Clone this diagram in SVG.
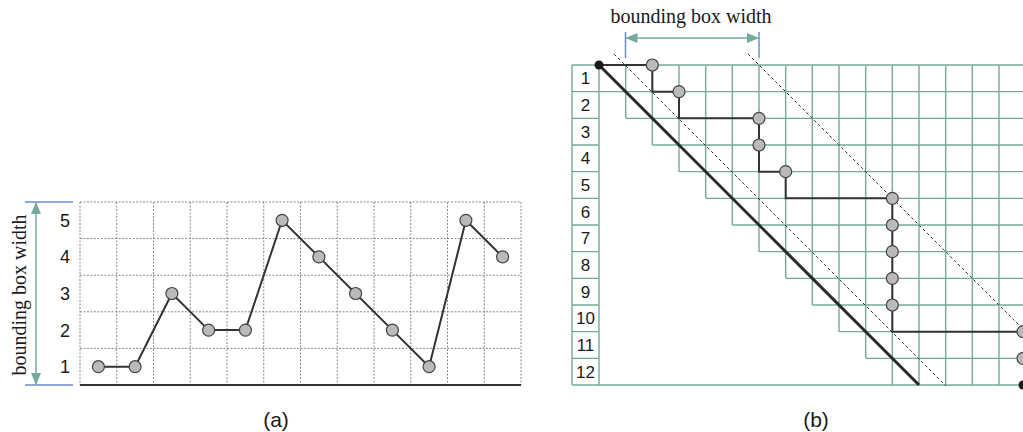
<svg xmlns="http://www.w3.org/2000/svg" width="1023" height="432" viewBox="0 0 1023 432">
<style>
.lbl{font-family:"Liberation Sans",Arial,sans-serif;fill:#1a1a1a;text-anchor:middle}
.ser{font-family:"Liberation Serif","Times New Roman",serif;font-size:20px;fill:#1a1a1a;text-anchor:middle}
.dot{stroke:#888;stroke-width:1;stroke-dasharray:2,1.5;fill:none}
.gr{stroke:#74aa9c;stroke-width:1.4;fill:none}
.node{fill:#b9babe;stroke:#444;stroke-width:1.2}
.conn{stroke:#333;stroke-width:2;fill:none}
.blue{stroke:#6c8cc8;stroke-width:1.5}
.arr{stroke:#74aa9c;stroke-width:1.5;fill:none}
</style>
<defs>
<marker id="ah" markerWidth="12" markerHeight="10" refX="11" refY="5" orient="auto-start-reverse" markerUnits="userSpaceOnUse">
<path d="M0,0 L12,5 L0,10 Z" fill="#74aa9c"/>
</marker>
</defs>
<rect width="1023" height="432" fill="#fff"/>

<!-- Panel (a) -->
<g id="grid-a">
<path class="dot" d="M80,202V385M116.75,202V385M153.5,202V385M190.25,202V385M227,202V385M263.75,202V385M300.5,202V385M337.25,202V385M374,202V385M410.75,202V385M447.5,202V385M484.25,202V385M521,202V385"/>
<path class="dot" d="M80,202H521M80,238.6H521M80,275.2H521M80,311.8H521M80,348.4H521"/>
<line x1="80" y1="385" x2="521" y2="385" stroke="#333" stroke-width="2"/>
<text class="lbl" font-size="18" x="65" y="373.2">1</text>
<text class="lbl" font-size="18" x="65" y="336.6">2</text>
<text class="lbl" font-size="18" x="65" y="300">3</text>
<text class="lbl" font-size="18" x="65" y="263.4">4</text>
<text class="lbl" font-size="18" x="65" y="226.8">5</text>
</g>
<g id="annot-a">
<line class="blue" x1="25" y1="202" x2="73" y2="202"/>
<line class="blue" x1="25" y1="385" x2="73" y2="385"/>
<line class="arr" x1="36" y1="203" x2="36" y2="384" marker-start="url(#ah)" marker-end="url(#ah)"/>
<text class="ser" transform="translate(26,295) rotate(-90)">bounding box width</text>
</g>
<g id="connectors-a">
<polyline class="conn" stroke-width="1.6" points="98.4,366.7 135.1,366.7 171.9,293.5 208.6,330.1 245.4,330.1 282.1,220.3 318.9,256.9 355.6,293.5 392.4,330.1 429.1,366.7 465.9,220.3 502.6,256.9"/>
</g>
<g id="a1"><circle class="node" cx="98.4" cy="366.7" r="6"/></g>
<g id="a2"><circle class="node" cx="135.1" cy="366.7" r="6"/></g>
<g id="a3"><circle class="node" cx="171.9" cy="293.5" r="6"/></g>
<g id="a4"><circle class="node" cx="208.6" cy="330.1" r="6"/></g>
<g id="a5"><circle class="node" cx="245.4" cy="330.1" r="6"/></g>
<g id="a6"><circle class="node" cx="282.1" cy="220.3" r="6"/></g>
<g id="a7"><circle class="node" cx="318.9" cy="256.9" r="6"/></g>
<g id="a8"><circle class="node" cx="355.6" cy="293.5" r="6"/></g>
<g id="a9"><circle class="node" cx="392.4" cy="330.1" r="6"/></g>
<g id="a10"><circle class="node" cx="429.1" cy="366.7" r="6"/></g>
<g id="a11"><circle class="node" cx="465.9" cy="220.3" r="6"/></g>
<g id="a12"><circle class="node" cx="502.6" cy="256.9" r="6"/></g>
<text class="lbl" font-size="21" x="276" y="427">(a)</text>

<!-- Panel (b) -->
<g id="grid-b">
<path class="gr" d="M572,65H1023M572,91.67H1023M572,385H1023
M572,118.33H599M625.67,118.33H1023
M572,145H599M652.33,145H1023
M572,171.67H599M679,171.67H1023
M572,198.33H599M705.67,198.33H1023
M572,225H599M732.33,225H1023
M572,251.67H599M759,251.67H1023
M572,278.33H599M785.67,278.33H1023
M572,305H599M812.33,305H1023
M572,331.67H599M839,331.67H1023
M572,358.33H599M865.67,358.33H1023"/>
<path class="gr" d="M572,65V385M599,65V385
M625.67,65V118.33M652.33,65V145M679,65V171.67M705.67,65V198.33M732.33,65V225M759,65V251.67M785.67,65V278.33M812.33,65V305M839,65V331.67M865.67,65V358.33M892.33,65V385M919,65V385M945.67,65V385M972.33,65V385M999,65V385"/>
<text class="lbl" font-size="17" x="585.5" y="84.3">1</text>
<text class="lbl" font-size="17" x="585.5" y="111">2</text>
<text class="lbl" font-size="17" x="585.5" y="137.6">3</text>
<text class="lbl" font-size="17" x="585.5" y="164.3">4</text>
<text class="lbl" font-size="17" x="585.5" y="191">5</text>
<text class="lbl" font-size="17" x="585.5" y="217.6">6</text>
<text class="lbl" font-size="17" x="585.5" y="244.3">7</text>
<text class="lbl" font-size="17" x="585.5" y="271">8</text>
<text class="lbl" font-size="17" x="585.5" y="297.6">9</text>
<text class="lbl" font-size="17" x="585.5" y="324.3">10</text>
<text class="lbl" font-size="17" x="585.5" y="351">11</text>
<text class="lbl" font-size="17" x="585.5" y="377.6">12</text>
</g>
<g id="diagonals">
<line x1="599" y1="65" x2="919" y2="385" stroke="#2a2a2a" stroke-width="3"/>
<line x1="614" y1="54" x2="946" y2="386" stroke="#333" stroke-width="1" stroke-dasharray="3,2.5"/>
<line x1="748" y1="54" x2="1023" y2="329" stroke="#333" stroke-width="1" stroke-dasharray="3,2.5"/>
</g>
<g id="annot-b">
<line class="blue" x1="625.5" y1="32" x2="625.5" y2="58"/>
<line class="blue" x1="759" y1="32" x2="759" y2="58"/>
<line class="arr" x1="626.5" y1="38" x2="758" y2="38" marker-start="url(#ah)" marker-end="url(#ah)"/>
<text class="ser" x="691" y="23">bounding box width</text>
</g>
<g id="connectors-b">
<path class="conn" d="M599,65H652.33V91.67H679V118.33H759V171.67H785.67V198.33H892.33V331.67H1023"/>
</g>
<g id="b0"><circle cx="599" cy="65" r="4.5" fill="#1a1a1a"/></g>
<g id="b1"><circle class="node" cx="652.33" cy="65" r="6"/></g>
<g id="b2"><circle class="node" cx="679" cy="91.67" r="6"/></g>
<g id="b3"><circle class="node" cx="759" cy="118.33" r="6"/></g>
<g id="b4"><circle class="node" cx="759" cy="145" r="6"/></g>
<g id="b5"><circle class="node" cx="785.67" cy="171.67" r="6"/></g>
<g id="b6"><circle class="node" cx="892.33" cy="198.33" r="6"/></g>
<g id="b7"><circle class="node" cx="892.33" cy="225" r="6"/></g>
<g id="b8"><circle class="node" cx="892.33" cy="251.67" r="6"/></g>
<g id="b9"><circle class="node" cx="892.33" cy="278.33" r="6"/></g>
<g id="b10"><circle class="node" cx="892.33" cy="305" r="6"/></g>
<g id="b11"><circle class="node" cx="1023" cy="331.67" r="6"/></g>
<g id="b12"><circle class="node" cx="1023" cy="358.33" r="6"/></g>
<g id="b13"><circle cx="1023" cy="385" r="4.5" fill="#1a1a1a"/></g>
<text class="lbl" font-size="21" x="816" y="427">(b)</text>
</svg>
